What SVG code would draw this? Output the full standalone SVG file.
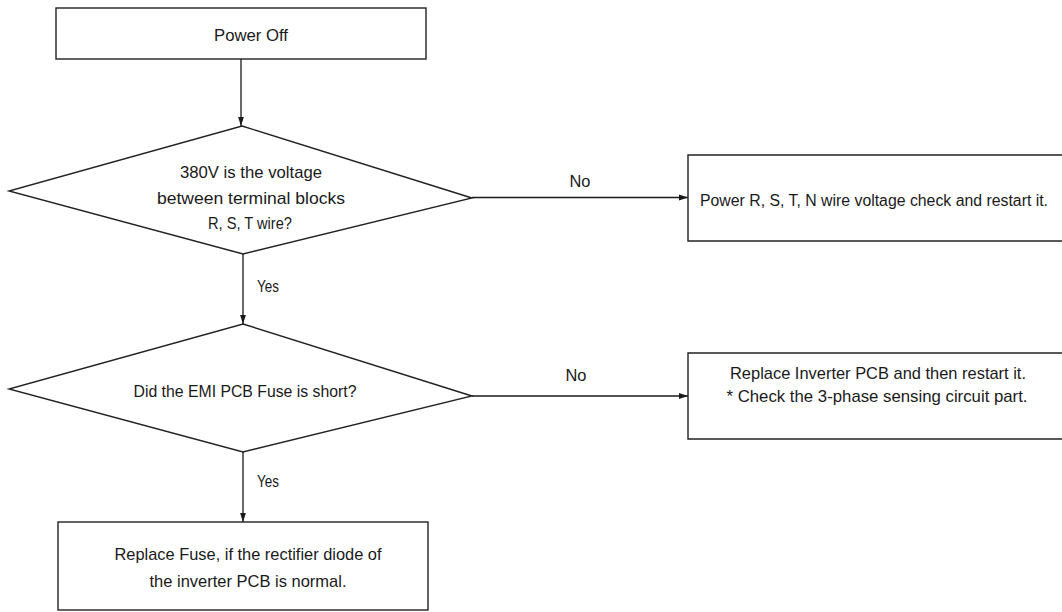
<svg xmlns="http://www.w3.org/2000/svg" width="1062" height="612" viewBox="0 0 1062 612">
<style>
.shape{fill:#fff;stroke:#222;stroke-width:1.4}
.t{font-family:"Liberation Sans",Arial,sans-serif;font-size:17px;fill:#1a1a1a;text-anchor:middle}
.c{stroke:#1a1a1a;stroke-width:1.3;fill:none;marker-end:url(#ah)}
</style>
<defs>
<marker id="ah" viewBox="0 0 10 10" refX="10" refY="5" markerWidth="9" markerHeight="9" markerUnits="userSpaceOnUse" orient="auto">
<path d="M0,1.8 L10,5 L0,8.2 Z" fill="#1a1a1a"/>
</marker>
</defs>
<rect width="1062" height="612" fill="#fff"/>
<g id="connectors">
<line class="c" x1="241" y1="59" x2="241" y2="126"/>
<line class="c" x1="243" y1="254" x2="243" y2="324"/>
<line class="c" x1="243" y1="452" x2="243" y2="522"/>
<line class="c" x1="472" y1="197.5" x2="688" y2="197.5"/>
<line class="c" x1="472" y1="396" x2="688" y2="396"/>
<text class="t" x="268" y="291.5" textLength="22" lengthAdjust="spacingAndGlyphs">Yes</text>
<text class="t" x="268" y="487" textLength="22" lengthAdjust="spacingAndGlyphs">Yes</text>
<text class="t" x="580" y="187" textLength="21" lengthAdjust="spacingAndGlyphs">No</text>
<text class="t" x="576" y="381" textLength="21" lengthAdjust="spacingAndGlyphs">No</text>
</g>
<g id="power-off">
<rect class="shape" x="56" y="8" width="370" height="51"/>
<text class="t" x="251" y="41" textLength="74" lengthAdjust="spacingAndGlyphs">Power Off</text>
</g>
<g id="check-380v">
<polygon class="shape" points="242,126 472,198 243,254 9,191"/>
<text class="t" x="251" y="178" textLength="142" lengthAdjust="spacingAndGlyphs">380V is the voltage</text>
<text class="t" x="251" y="203.5" textLength="188" lengthAdjust="spacingAndGlyphs">between terminal blocks</text>
<text class="t" x="250" y="229" textLength="84" lengthAdjust="spacingAndGlyphs">R, S, T wire?</text>
</g>
<g id="power-check">
<path class="shape" d="M1062,155 H688 V241 H1062"/>
<text class="t" x="874" y="205.5" style="font-size:16px" textLength="348" lengthAdjust="spacingAndGlyphs">Power R, S, T, N wire voltage check and restart it.</text>
</g>
<g id="check-fuse">
<polygon class="shape" points="243,324 472,396 243,452 9,389"/>
<text class="t" x="245" y="396.5" textLength="223" lengthAdjust="spacingAndGlyphs">Did the EMI PCB Fuse is short?</text>
</g>
<g id="replace-inverter">
<path class="shape" d="M1062,353 H688 V439 H1062"/>
<text class="t" x="878" y="378.5" textLength="296" lengthAdjust="spacingAndGlyphs">Replace Inverter PCB and then restart it.</text>
<text class="t" x="877" y="401.5" textLength="301" lengthAdjust="spacingAndGlyphs">* Check the 3-phase sensing circuit part.</text>
</g>
<g id="replace-fuse">
<rect class="shape" x="58" y="522" width="370" height="88"/>
<text class="t" x="248" y="560" textLength="267" lengthAdjust="spacingAndGlyphs">Replace Fuse, if the rectifier diode of</text>
<text class="t" x="248" y="586.5" textLength="197" lengthAdjust="spacingAndGlyphs">the inverter PCB is normal.</text>
</g>
</svg>
